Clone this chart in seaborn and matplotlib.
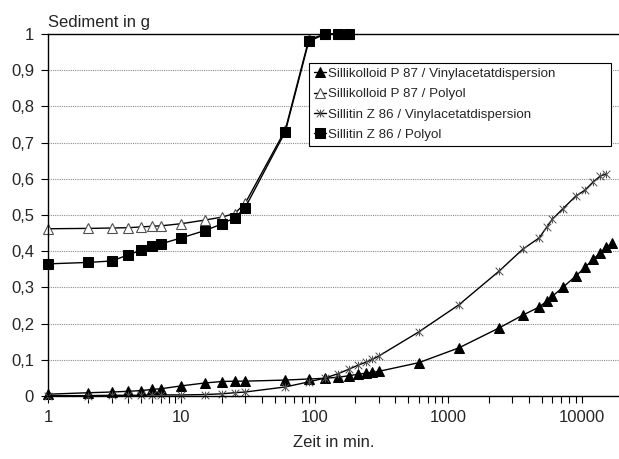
import numpy as np
import pandas as pd
import matplotlib
matplotlib.use('Agg')
import matplotlib.pyplot as plt
import seaborn as sns
from matplotlib.path import Path
from matplotlib.ticker import FuncFormatter, LogLocator, FixedLocator, NullFormatter

# ---------- Data ----------
t_short = [1, 2, 3, 4, 5, 6, 7, 10, 15, 20, 25, 30, 60, 90, 120, 150, 180]
t_long = [1, 2, 3, 4, 5, 6, 7, 10, 15, 20, 25, 30, 60, 90, 120, 150, 180,
          210, 240, 270, 300, 600, 1200, 2400, 3600, 4800, 5500, 6000, 7200,
          9000, 10600, 12200, 13800, 15300, 16900]

p87_vinyl = [0.005, 0.009, 0.011, 0.013, 0.015, 0.018, 0.020, 0.028, 0.036,
             0.040, 0.041, 0.041, 0.044, 0.047, 0.049, 0.052, 0.056, 0.060,
             0.063, 0.065, 0.068, 0.092, 0.133, 0.188, 0.223, 0.246, 0.263,
             0.275, 0.300, 0.331, 0.356, 0.378, 0.396, 0.411, 0.422]
p87_polyol = [0.462, 0.463, 0.464, 0.465, 0.467, 0.469, 0.470, 0.476, 0.486,
              0.494, 0.504, 0.532, 0.735, 0.985, 1.0, 1.0, 1.0]
z86_vinyl = [0.001, 0.001, 0.002, 0.002, 0.002, 0.003, 0.003, 0.003, 0.004,
             0.006, 0.009, 0.011, 0.025, 0.039, 0.050, 0.062, 0.074, 0.085,
             0.093, 0.101, 0.110, 0.177, 0.252, 0.345, 0.405, 0.437, 0.468,
             0.488, 0.517, 0.552, 0.569, 0.592, 0.608, 0.613]
z86_polyol = [0.365, 0.369, 0.373, 0.390, 0.403, 0.414, 0.420, 0.437, 0.457,
              0.475, 0.492, 0.520, 0.730, 0.980, 1.0, 1.0, 1.0]

labels = ['Sillikolloid P 87 / Vinylacetatdispersion',
          'Sillikolloid P 87 / Polyol',
          'Sillitin Z 86 / Vinylacetatdispersion',
          'Sillitin Z 86 / Polyol']

# ---------- Styling ----------
sns.set_style('white')
plt.rcParams['font.family'] = ['Liberation Sans', 'DejaVu Sans']

# Excel-like star marker: an x with a vertical bar
star = Path([(0, -1), (0, 1), (-1, -1), (1, 1), (-1, 1), (1, -1)],
            [Path.MOVETO, Path.LINETO, Path.MOVETO, Path.LINETO,
             Path.MOVETO, Path.LINETO])

fig = plt.figure(figsize=(6.19, 4.59), dpi=100)
ax = fig.add_axes([48 / 619, 1 - 396 / 459, 1 - 48 / 619, (396 - 34) / 459])

common = dict(ax=ax, color='black', linewidth=1.0, sort=False,
              estimator=None, clip_on=False)

sns.lineplot(x=t_long, y=p87_vinyl, marker='^', markersize=6.5,
             markerfacecolor='black', markeredgecolor='black',
             label=labels[0], **common)
sns.lineplot(x=t_short, y=p87_polyol, marker='^', markersize=7,
             markerfacecolor='white', markeredgecolor='#505050',
             markeredgewidth=0.8, label=labels[1], **common)
sns.lineplot(x=t_long[:len(z86_vinyl)], y=z86_vinyl, marker=star,
             markersize=5.5, markerfacecolor='none', markeredgecolor='#505050',
             markeredgewidth=0.7, label=labels[2], **common)
sns.lineplot(x=t_short, y=z86_polyol, marker='s', markersize=6.5,
             markerfacecolor='black', markeredgecolor='black',
             label=labels[3], **common)

# ---------- Axes ----------
ax.set_xscale('log')
ax.set_xlim(1, 19000)
ax.set_ylim(0, 1)

ax.yaxis.set_major_locator(FixedLocator(np.arange(0, 1.01, 0.1)))
ax.yaxis.set_major_formatter(FuncFormatter(
    lambda v, p: '0' if abs(v) < 1e-9 else ('1' if abs(v - 1) < 1e-9 else f'{v:.1f}'.replace('.', ','))))
ax.xaxis.set_major_locator(FixedLocator([1, 10, 100, 1000, 10000]))
ax.xaxis.set_major_formatter(FuncFormatter(lambda v, p: f'{int(round(v))}'))
ax.xaxis.set_minor_locator(LogLocator(base=10, subs=np.arange(2, 10)))
ax.xaxis.set_minor_formatter(NullFormatter())

ax.tick_params(axis='both', which='major', direction='out', length=5,
               width=0.8, color='black', labelsize=12, pad=5)
ax.tick_params(axis='x', which='minor', direction='out', length=5,
               width=0.8, color='black')
ax.tick_params(axis='x', which='both', bottom=True)
ax.tick_params(axis='y', which='both', left=True)

ax.yaxis.grid(True, color='#8c8c8c', linestyle=(0, (1, 1)), linewidth=0.8)
ax.xaxis.grid(False)
ax.set_axisbelow(True)

for side in ['left', 'bottom', 'top']:
    ax.spines[side].set_color('black')
    ax.spines[side].set_linewidth(1.0)
ax.spines['right'].set_visible(False)

ax.set_xlabel('Zeit in min.', fontsize=12, labelpad=7)
ax.set_ylabel('')
ax.text(0, 1.01, 'Sediment in g', transform=ax.transAxes, fontsize=12,
        ha='left', va='bottom')

# legend box spans x 309..611, y 63..148 px in the reference
leg = ax.legend(loc='upper left',
                bbox_to_anchor=(309 / 619, 1 - 148 / 459, 302 / 619, 85 / 459),
                bbox_transform=fig.transFigure, mode='expand',
                fontsize=9.6, frameon=True, fancybox=False, edgecolor='black',
                framealpha=1, handlelength=0.9, handletextpad=0.2,
                borderpad=0.35, labelspacing=0.6, borderaxespad=0)
leg.get_frame().set_linewidth(0.8)

fig.savefig('out.png', dpi=100)
